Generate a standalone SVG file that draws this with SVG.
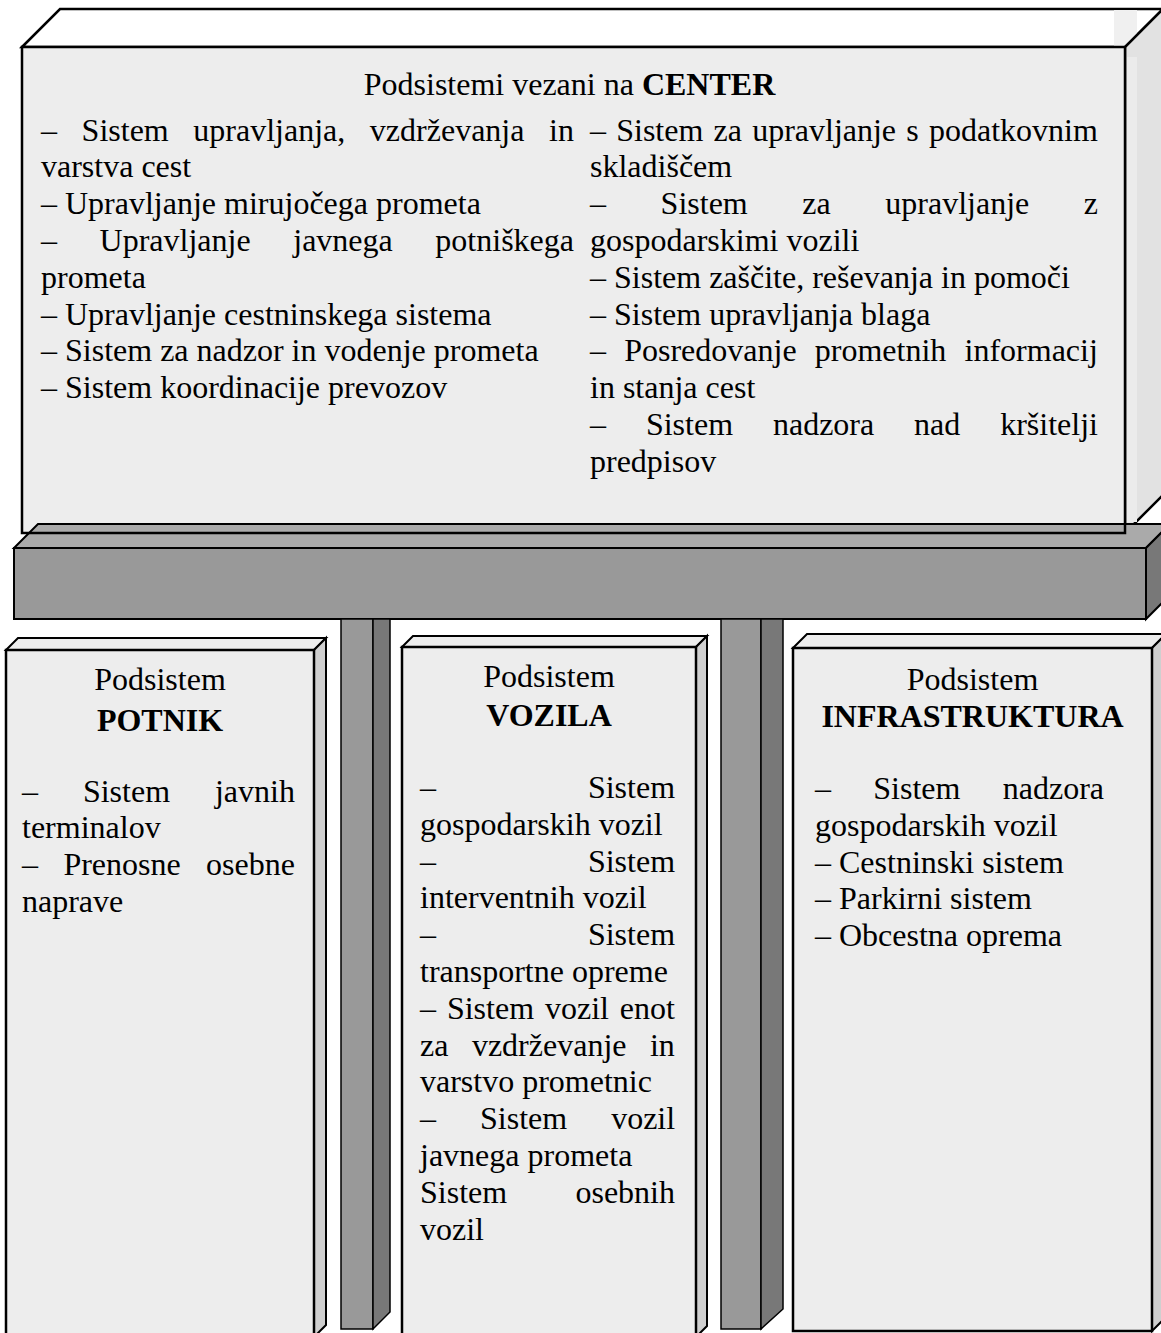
<svg xmlns="http://www.w3.org/2000/svg" width="1161" height="1333" viewBox="0 0 1161 1333">
<style>
.t{font-family:"Liberation Serif","Times New Roman",serif;font-size:32px;fill:#000}
.b{font-weight:bold}
.c{text-anchor:middle}
.edge{stroke:#000;stroke-linejoin:miter}
.light{fill:#ededed}
.top{fill:#ffffff}
.side{fill:#e2e2e2}
.bside{fill:#cfcfcf}
.gtop{fill:#aaaaaa}
.gfront{fill:#999999}
.gside{fill:#787878}
</style>
<rect width="1161" height="1333" fill="#ffffff"/>

<g id="center-box">
  <polygon class="top edge" stroke-width="2.5" points="22,47 60,9 1163,9 1125,47"/>
  <rect x="1114" y="10" width="23" height="36" fill="#f0f0f0"/>
  <polygon class="side edge" stroke-width="2.5" points="1125,47 1163,9 1163,495 1125,533"/>
  <rect x="1127" y="57" width="10" height="465" fill="#ebebeb"/>
  <rect class="light" x="22" y="47" width="1103" height="486"/>
</g>

<g id="connectors">
  <g id="bar">
    <polygon class="gtop edge" stroke-width="2" points="14,548 38,524 1170,524 1146,548"/>
    <rect class="gfront edge" stroke-width="2" x="14" y="548" width="1132" height="71"/>
    <polygon class="gside edge" stroke-width="2" points="1146,548 1170,524 1170,595 1146,619"/>
  </g>
  <g id="pillar-1">
    <rect class="gfront edge" stroke-width="1.5" x="341" y="619" width="32" height="710"/>
    <polygon class="gside edge" stroke-width="1.5" points="373,619 390,619 390,1312 373,1329"/>
  </g>
  <g id="pillar-2">
    <rect class="gfront edge" stroke-width="1.5" x="721" y="619" width="40" height="710"/>
    <polygon class="gside edge" stroke-width="1.5" points="761,619 783,619 783,1309 761,1329"/>
  </g>
</g>

<g id="center-outline">
  <rect x="22" y="47" width="1103" height="486" fill="none" stroke="#000" stroke-width="2.5"/>
</g>

<g id="center-text">
  <text class="t c" x="569.5" y="95">Podsistemi vezani na <tspan class="b">CENTER</tspan></text>
  <text class="t" x="41" y="140.5" style="word-spacing:16.6px">– Sistem upravljanja, vzdrževanja in</text>
  <text class="t" x="41" y="177.3">varstva cest</text>
  <text class="t" x="41" y="214.1">– Upravljanje mirujočega prometa</text>
  <text class="t" x="41" y="250.9" style="word-spacing:34.6px">– Upravljanje javnega potniškega</text>
  <text class="t" x="41" y="287.7">prometa</text>
  <text class="t" x="41" y="324.5">– Upravljanje cestninskega sistema</text>
  <text class="t" x="41" y="361.3">– Sistem za nadzor in vodenje prometa</text>
  <text class="t" x="41" y="398.1">– Sistem koordinacije prevozov</text>

  <text class="t" x="590" y="140.5" style="word-spacing:2.2px">– Sistem za upravljanje s podatkovnim</text>
  <text class="t" x="590" y="177.3">skladiščem</text>
  <text class="t" x="590" y="214.1" style="word-spacing:46.6px">– Sistem za upravljanje z</text>
  <text class="t" x="590" y="250.9">gospodarskimi vozili</text>
  <text class="t" x="590" y="287.7">– Sistem zaščite, reševanja in pomoči</text>
  <text class="t" x="590" y="324.5">– Sistem upravljanja blaga</text>
  <text class="t" x="590" y="361.3" style="word-spacing:10.2px">– Posredovanje prometnih informacij</text>
  <text class="t" x="590" y="398.1">in stanja cest</text>
  <text class="t" x="590" y="434.9" style="word-spacing:31.9px">– Sistem nadzora nad kršitelji</text>
  <text class="t" x="590" y="471.7">predpisov</text>
</g>

<g id="potnik">
  <polygon class="light edge" stroke-width="2" points="6,650 18,638 326,638 314,650"/>
  <polygon class="bside edge" stroke-width="2" points="314,650 326,638 326,1325 314,1337"/>
  <rect class="light edge" stroke-width="2.5" x="6" y="650" width="308" height="688"/>
  <text class="t c" x="160" y="690">Podsistem</text>
  <text class="t c b" x="160" y="731">POTNIK</text>
  <text class="t" x="22" y="801.5" style="word-spacing:36.9px">– Sistem javnih</text>
  <text class="t" x="22" y="838.3">terminalov</text>
  <text class="t" x="22" y="875.1" style="word-spacing:17.4px">– Prenosne osebne</text>
  <text class="t" x="22" y="911.9">naprave</text>
</g>

<g id="vozila">
  <polygon class="light edge" stroke-width="2" points="402,647 413,636 707,636 696,647"/>
  <polygon class="bside edge" stroke-width="2" points="696,647 707,636 707,1326 696,1337"/>
  <rect class="light edge" stroke-width="2.5" x="402" y="647" width="294" height="691"/>
  <text class="t c" x="549" y="687">Podsistem</text>
  <text class="t c b" x="549" y="726">VOZILA</text>
  <text class="t" x="420" y="798" style="word-spacing:143.9px">– Sistem</text>
  <text class="t" x="420" y="834.8">gospodarskih vozil</text>
  <text class="t" x="420" y="871.6" style="word-spacing:143.9px">– Sistem</text>
  <text class="t" x="420" y="908.4">interventnih vozil</text>
  <text class="t" x="420" y="945.2" style="word-spacing:143.9px">– Sistem</text>
  <text class="t" x="420" y="982">transportne opreme</text>
  <text class="t" x="420" y="1018.8" style="word-spacing:2.9px">– Sistem vozil enot</text>
  <text class="t" x="420" y="1055.6" style="word-spacing:15.5px">za vzdrževanje in</text>
  <text class="t" x="420" y="1092.4">varstvo prometnic</text>
  <text class="t" x="420" y="1129.2" style="word-spacing:36px">– Sistem vozil</text>
  <text class="t" x="420" y="1166">javnega prometa</text>
  <text class="t" x="420" y="1202.8" style="word-spacing:60.3px">Sistem osebnih</text>
  <text class="t" x="420" y="1239.6">vozil</text>
</g>

<g id="infrastruktura">
  <polygon class="light edge" stroke-width="2" points="793,648 807,634 1166,634 1152,648"/>
  <polygon class="bside edge" stroke-width="2" points="1152,648 1166,634 1166,1317 1152,1331"/>
  <rect class="light edge" stroke-width="2.5" x="793" y="648" width="359" height="683"/>
  <text class="t c" x="972.5" y="690">Podsistem</text>
  <text class="t c b" x="972.5" y="727">INFRASTRUKTURA</text>
  <text class="t" x="815" y="799" style="word-spacing:34.3px">– Sistem nadzora</text>
  <text class="t" x="815" y="835.8">gospodarskih vozil</text>
  <text class="t" x="815" y="872.6">– Cestninski sistem</text>
  <text class="t" x="815" y="909.4">– Parkirni sistem</text>
  <text class="t" x="815" y="946.2">– Obcestna oprema</text>
</g>
</svg>
